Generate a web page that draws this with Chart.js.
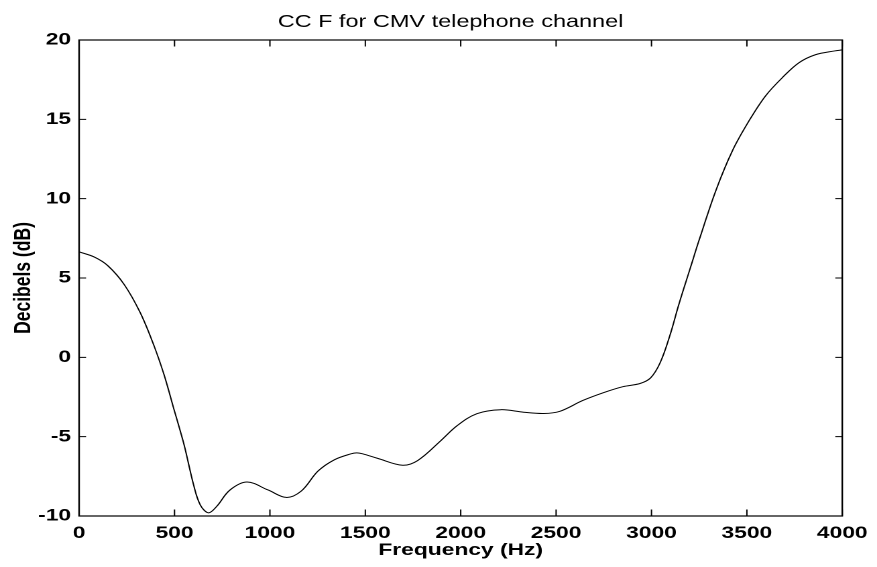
<!DOCTYPE html>
<html>
<head>
<meta charset="utf-8">
<script src="https://cdn.jsdelivr.net/npm/chart.js@4.4.1/dist/chart.umd.min.js"></script>
<style>
  html, body { margin: 0; padding: 0; background: #fff; overflow: hidden; }
  /* la figura original esta estirada en horizontal */
  #lienzo { width: 654px; height: 567px; transform: scaleX(1.341); transform-origin: 0 0; }
</style>
</head>
<body>
<div id="lienzo">
  <canvas id="grafico" width="654" height="567"></canvas>
</div>
<script>
// datos
const titulo = "CC F for CMV telephone channel";
const etiquetaX = "Frequency (Hz)";
const etiquetaY = "Decibels (dB)";

const frecuencias = [0, 80, 150, 235, 320, 390, 445, 495, 550, 600, 635, 678, 720, 790, 880, 990,
  1086, 1165, 1252, 1339, 1425, 1455, 1486, 1565, 1695, 1775, 1895, 1980, 2085, 2210, 2330, 2435, 2520,
  2640, 2750, 2850, 2940, 2995, 3045, 3095, 3145, 3200, 3250, 3338, 3425, 3512, 3598, 3686, 3772,
  3859, 3960, 4000];
const decibeles = [6.65, 6.32, 5.78, 4.61, 2.82, 0.81, -1.09, -3.19, -5.51, -8.04, -9.3, -9.8, -9.41, -8.37, -7.86, -8.36,
  -8.83, -8.42, -7.17, -6.45, -6.08, -6.02, -6.08, -6.37, -6.8, -6.5, -5.26, -4.32, -3.55, -3.3, -3.46, -3.54, -3.4,
  -2.72, -2.22, -1.85, -1.65, -1.3, -0.35, 1.32, 3.4, 5.5, 7.4, 10.53, 13.04, 14.92, 16.48, 17.63, 18.56,
  19.07, 19.31, 19.38];

const ticksX = [0, 500, 1000, 1500, 2000, 2500, 3000, 3500, 4000];
const ticksY = [-10, -5, 0, 5, 10, 15, 20];

const fuente = '"Liberation Sans", Arial, Helvetica, sans-serif';

// marco y marcas hacia adentro (estilo matlab)
const marcoPlugin = {
  id: "marco",
  afterDatasetsDraw(chart) {
    const { ctx, chartArea: { left, right, top, bottom }, scales: { x, y } } = chart;
    ctx.save();
    ctx.strokeStyle = "#000";
    ctx.lineWidth = 1.2;
    ctx.strokeRect(left, top, right - left, bottom - top);
    ctx.lineWidth = 1;
    ctx.beginPath();
    ticksX.forEach(v => {
      const px = x.getPixelForValue(v);
      ctx.moveTo(px, bottom); ctx.lineTo(px, bottom - 6.5);
      ctx.moveTo(px, top); ctx.lineTo(px, top + 6.5);
    });
    ticksY.forEach(v => {
      const py = y.getPixelForValue(v);
      ctx.moveTo(left, py); ctx.lineTo(left + 5.2, py);
      ctx.moveTo(right, py); ctx.lineTo(right - 5.2, py);
    });
    ctx.stroke();
    ctx.restore();
  }
};

const tituloPlugin = {
  id: "titulo",
  afterDraw(chart) {
    const { ctx } = chart;
    ctx.save();
    ctx.font = "17.5px " + fuente;
    ctx.fillStyle = "#000";
    ctx.textAlign = "center";
    ctx.textBaseline = "alphabetic";
    ctx.fillText(titulo, 336, 27);
    ctx.restore();
  }
};

new Chart(document.getElementById("grafico"), {
  type: "line",
  data: {
    datasets: [{
      label: titulo,
      data: frecuencias.map((f, i) => ({ x: f, y: decibeles[i] })),
      borderColor: "#000",
      borderWidth: 1,
      pointRadius: 0,
      fill: false,
      tension: 0.35
    }]
  },
  options: {
    responsive: false,
    animation: false,
    devicePixelRatio: 2,
    layout: { padding: { top: 40, right: 24.6, left: 0, bottom: 0 } },
    plugins: {
      legend: { display: false },
      tooltip: { enabled: false }
    },
    scales: {
      x: {
        type: "linear",
        min: 0,
        max: 4000,
        afterBuildTicks: scale => { scale.ticks = ticksX.map(v => ({ value: v })); },
        afterFit: scale => { scale.height = 51; },
        grid: { display: false, drawTicks: false },
        border: { display: false },
        ticks: {
          autoSkip: false,
          maxRotation: 0,
          padding: 7,
          color: "#000",
          callback: v => String(v),
          font: { family: fuente, size: 17, weight: "bold" }
        },
        title: {
          display: true,
          text: etiquetaX,
          color: "#000",
          font: { family: fuente, size: 17, weight: "bold" },
          padding: { top: 0, bottom: 6.5 }
        }
      },
      y: {
        min: -10,
        max: 20,
        afterBuildTicks: scale => { scale.ticks = ticksY.map(v => ({ value: v })); },
        afterFit: scale => { scale.width = 59; },
        grid: { display: false, drawTicks: false },
        border: { display: false },
        ticks: {
          padding: 6,
          color: "#000",
          callback: v => String(v),
          font: { family: fuente, size: 17, weight: "bold" }
        },
        title: {
          display: true,
          text: etiquetaY,
          color: "#000",
          font: { family: fuente, size: 17.5, weight: "bold" },
          padding: { top: 7.4, bottom: 0 }
        }
      }
    }
  },
  plugins: [marcoPlugin, tituloPlugin]
});
</script>
</body>
</html>
